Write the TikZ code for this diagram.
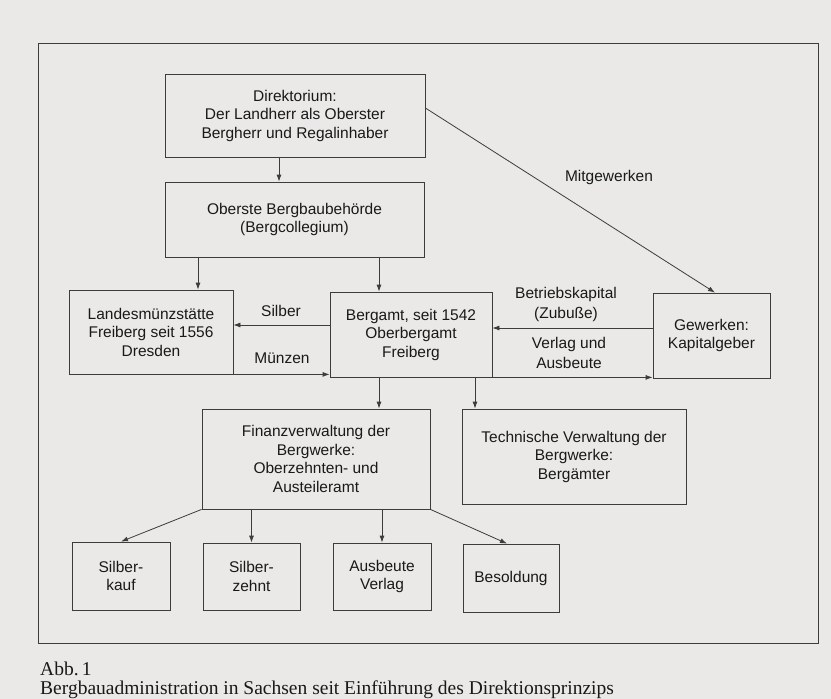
\documentclass[tikz,border=0pt]{standalone}
\usepackage{fontspec}
\setmainfont{Liberation Sans}
\newfontfamily\capfont{Liberation Serif}
\usetikzlibrary{arrows.meta}
\definecolor{paper}{RGB}{234,233,231}
\definecolor{ink}{RGB}{60,60,60}
\definecolor{txt}{RGB}{25,25,25}
\begin{document}
\begin{tikzpicture}[x=1pt,y=-1pt,
  box/.style={draw=ink, line width=0.8pt, inner sep=0pt, align=center, text=txt,
    font=\fontsize{15.5}{18.5}\selectfont},
  lbl/.style={inner sep=0pt, align=center, text=txt, font=\fontsize{15.5}{20}\selectfont},
  arr/.style={draw=ink, line width=0.8pt, -{Latex[length=7pt,width=5pt]}},
  captxt/.style={anchor=base west, inner sep=0pt, text=txt, font=\capfont\fontsize{19.5}{21}\selectfont},
]
\fill[paper] (0,0) rectangle (831,699);
\useasboundingbox (0,0) rectangle (831,699);
\draw[ink, line width=0.9pt] (38,43) rectangle (818,643);

% boxes
\node[box, minimum width=260pt, minimum height=83pt] (dir) at (295,115.5)
  {Direktorium:\\Der Landherr als Oberster\\Bergherr und Regalinhaber};
\node[box, minimum width=259pt, minimum height=75pt] (obb) at (294.5,219.5)
  {Oberste Bergbaubehörde\\(Bergcollegium)};
\node[box, minimum width=164pt, minimum height=84pt] (lms) at (151,332)
  {Landesmünzstätte\\Freiberg seit 1556\\Dresden};
\node[box, minimum width=162pt, minimum height=85pt] (ba) at (411,334.5)
  {Bergamt, seit 1542\\Oberbergamt\\Freiberg};
\node[box, minimum width=117pt, minimum height=85pt] (gew) at (711.5,335.5)
  {Gewerken:\\Kapitalgeber};
\node[box, minimum width=228pt, minimum height=100pt] (fin) at (316,459)
  {Finanzverwaltung der\\Bergwerke:\\Oberzehnten- und\\Austeileramt};
\node[box, minimum width=224pt, minimum height=95pt] (tec) at (574,456.5)
  {Technische Verwaltung der\\Bergwerke:\\Bergämter};
\node[box, minimum width=98pt, minimum height=68pt] (sk) at (121,576) {Silber-\\kauf};
\node[box, minimum width=97pt, minimum height=67pt] (sz) at (251.5,576.5) {Silber-\\zehnt};
\node[box, minimum width=98pt, minimum height=67pt] (av) at (382,576.5) {Ausbeute\\Verlag};
\node[box, minimum width=96pt, minimum height=68pt] (bs) at (511,578) {Besoldung};

% helper coordinates
\coordinate (xa) at (198,0);
\coordinate (xb) at (379,0);
\coordinate (xc) at (475,0);
\coordinate (xd) at (279,0);
\coordinate (ys) at (0,325);
\coordinate (yb) at (0,328);

% connectors
\draw[arr] (dir.south -| xd) -- (obb.north -| xd);
\draw[arr] ([yshift=7.5pt]dir.east) -- ([xshift=3.5pt]gew.north);
\draw[arr] (obb.south -| xa) -- (lms.north -| xa);
\draw[arr] (obb.south -| xb) -- (ba.north -| xb);
\draw[arr] (ba.west |- ys) -- (lms.east |- ys);
\draw[arr] (lms.south east) -- (ba.west |- lms.south east);
\draw[arr] (gew.west |- yb) -- (ba.east |- yb);
\draw[arr] (ba.south east) -- (gew.west |- ba.south east);
\draw[arr] (ba.south -| xb) -- (fin.north -| xb);
\draw[arr] (ba.south -| xc) -- (tec.north -| xc);
\draw[arr] (fin.south west) -- (sk.north);
\draw[arr] (fin.south -| sz.north) -- (sz.north);
\draw[arr] (fin.south -| av.north) -- (av.north);
\draw[arr] (fin.south east) -- ([xshift=-4pt]bs.north);

% labels
\node[lbl] (lsil) at (281,311) {Silber};
\node[lbl] (lmue) at (282,358) {Münzen};
\node[lbl] (lbet) at (566,304) {Betriebskapital\\(Zubuße)};
\node[lbl] (lver) at (569,353) {Verlag und\\Ausbeute};
\node[lbl] (lmit) at (609,177) {Mitgewerken};

% caption
\node[captxt] (cap1) at (40,675) {Abb.\,1};
\node[captxt] (cap2) at (40,694) {Bergbauadministration in Sachsen seit Einführung des Direktionsprinzips};
\end{tikzpicture}
\end{document}
